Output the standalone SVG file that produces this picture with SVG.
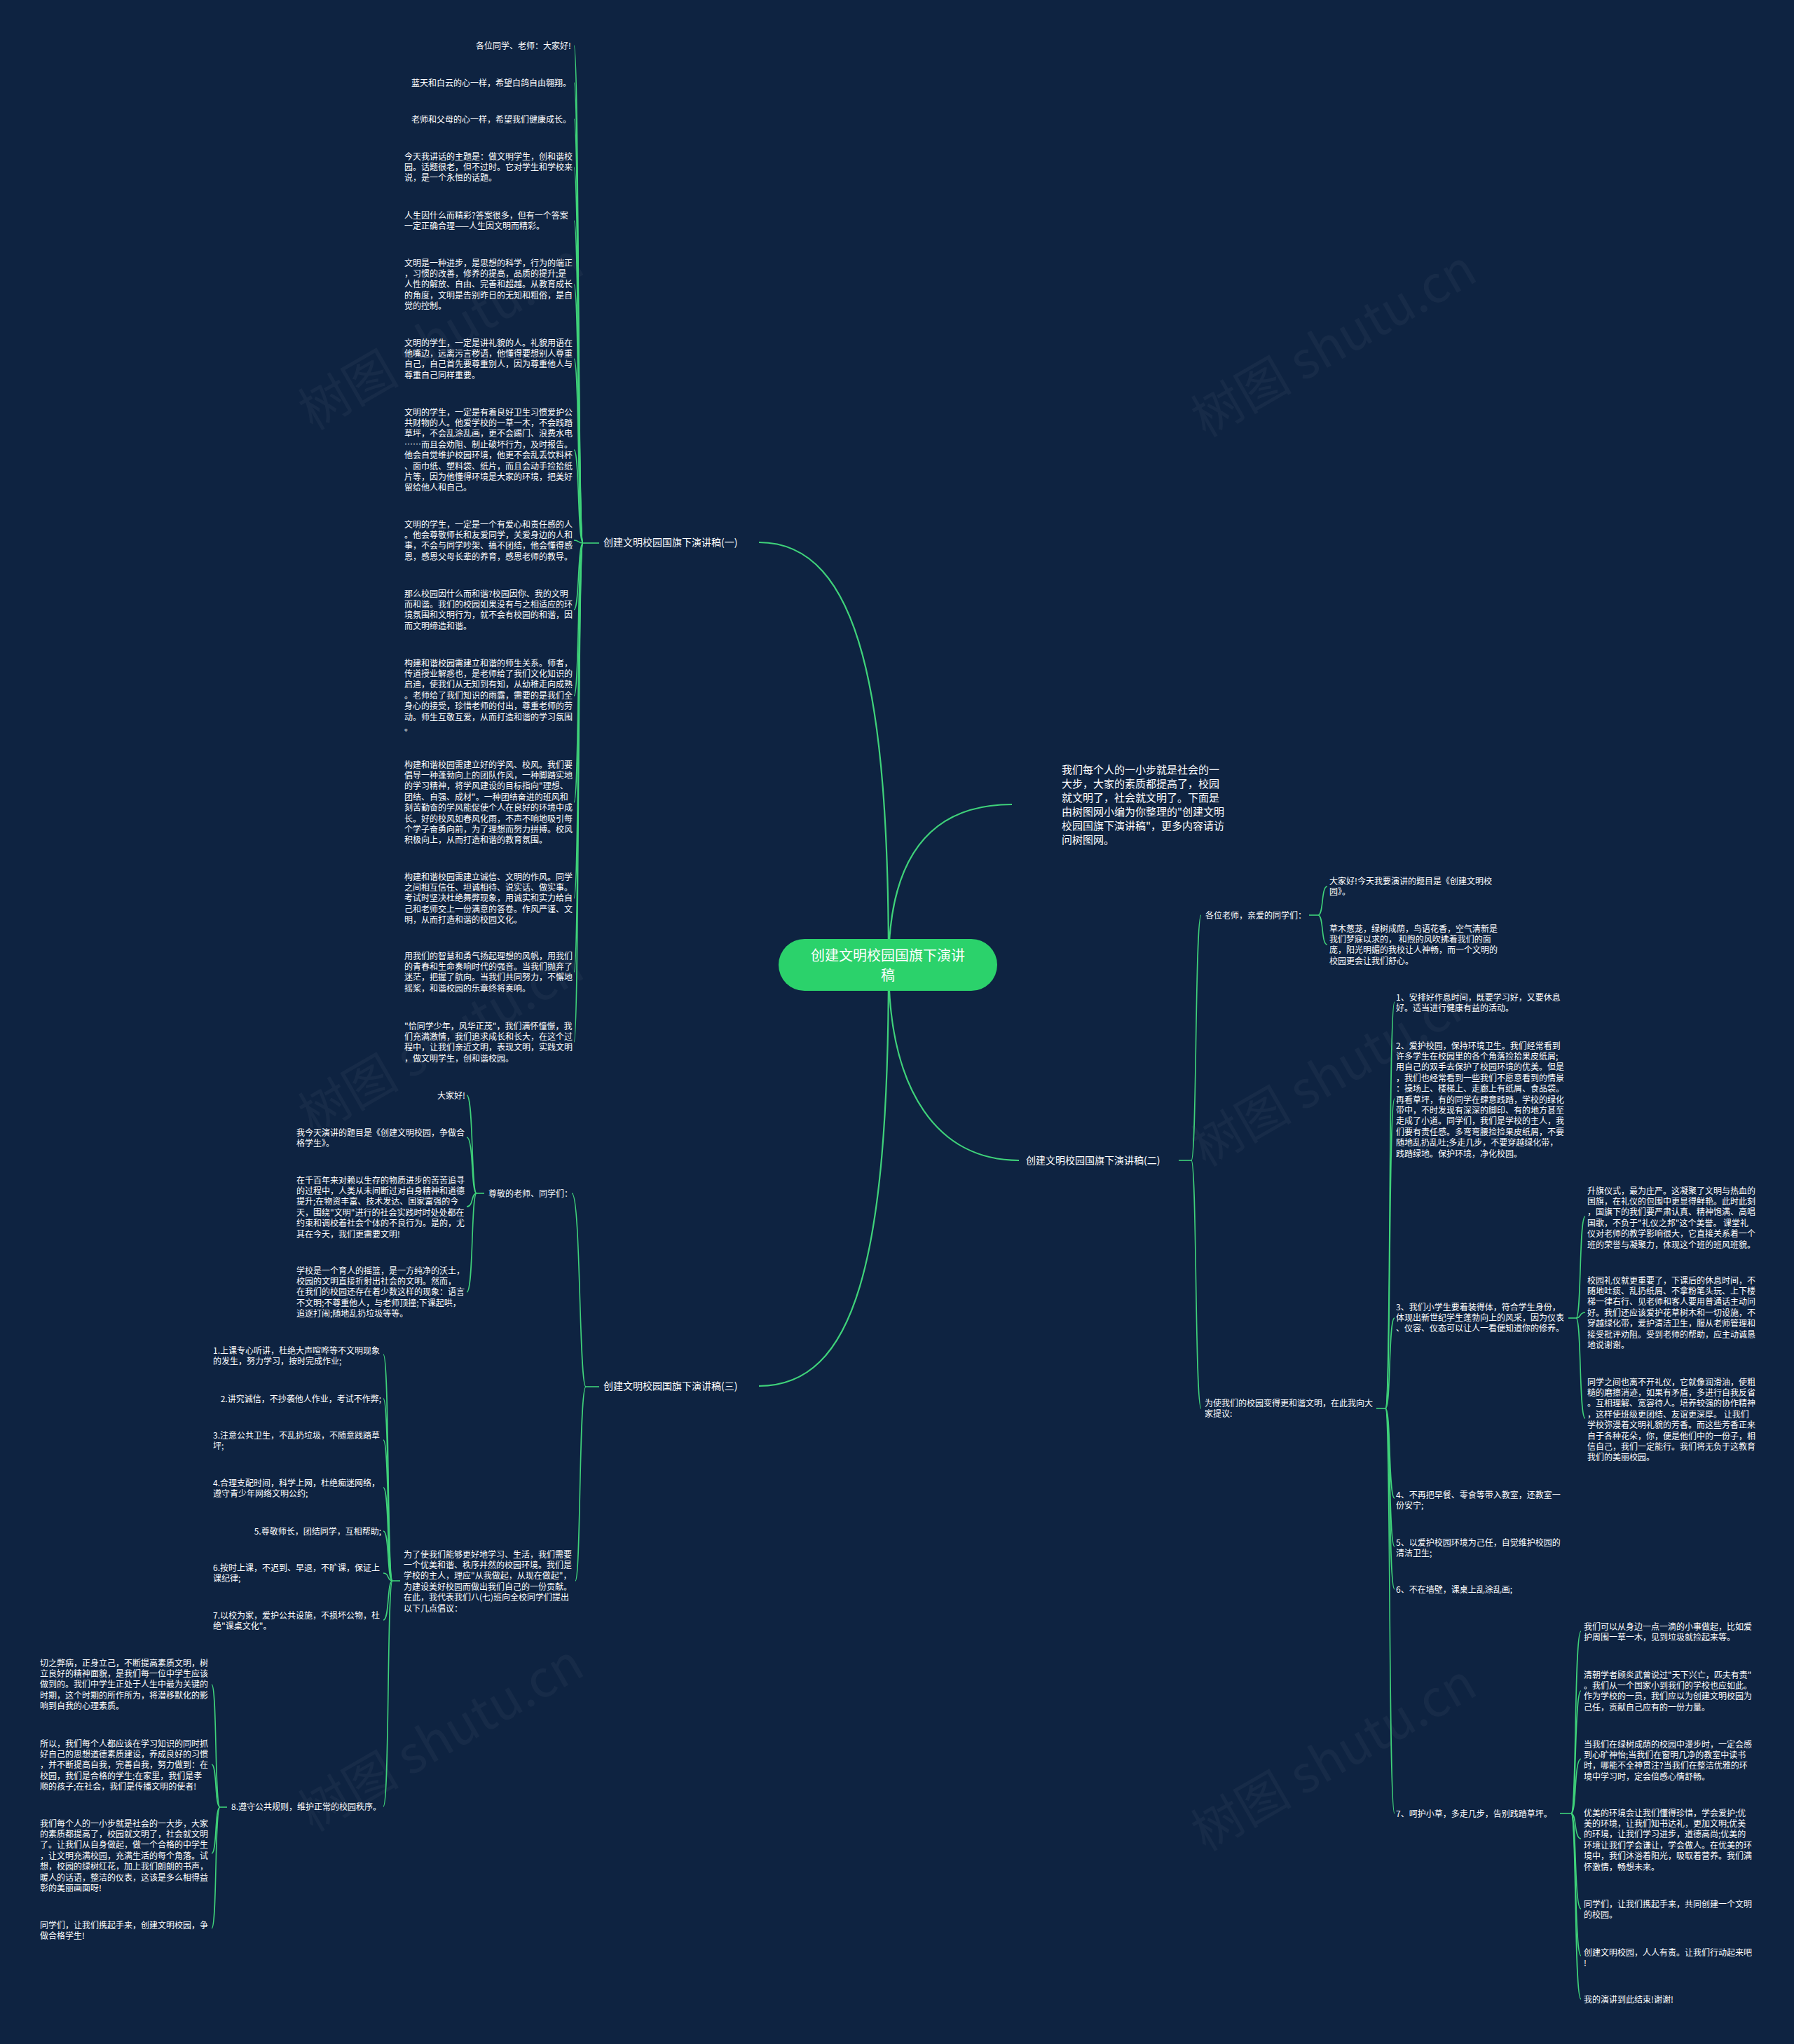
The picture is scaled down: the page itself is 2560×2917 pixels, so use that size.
<svg xmlns="http://www.w3.org/2000/svg" width="2560" height="2917" viewBox="0 0 2560 2917">
<style>
.t{font-family:"Noto Sans CJK SC","Noto Sans",sans-serif;font-size:12px;fill:#ffffff}
.e{text-anchor:end}
.lb{font-family:"Noto Sans CJK SC","Noto Sans",sans-serif;font-size:14px;fill:#ffffff}
.in{font-family:"Noto Sans CJK SC","Noto Sans",sans-serif;font-size:15px;fill:#ffffff}
.ct{font-family:"Noto Sans CJK SC","Noto Sans",sans-serif;font-size:20px;fill:#ffffff;text-anchor:middle}
.wm{font-family:"Noto Sans CJK SC","Liberation Sans",sans-serif;font-size:72px;fill:#ffffff;opacity:0.035}
.c{fill:none;stroke:#3fd27a;stroke-width:1.6}
.m{fill:none;stroke:#3fd27a;stroke-width:2.2}
</style>
<rect width="2560" height="2917" fill="#0e2341"/>
<g id="watermarks">
<text class="wm" transform="translate(642,502) rotate(-30)" text-anchor="middle">树图 shutu.cn</text>
<text class="wm" transform="translate(1916,512) rotate(-30)" text-anchor="middle">树图 shutu.cn</text>
<text class="wm" transform="translate(642,1507) rotate(-30)" text-anchor="middle">树图 shutu.cn</text>
<text class="wm" transform="translate(1916,1553) rotate(-30)" text-anchor="middle">树图 shutu.cn</text>
<text class="wm" transform="translate(642,2502) rotate(-30)" text-anchor="middle">树图 shutu.cn</text>
<text class="wm" transform="translate(1916,2530) rotate(-30)" text-anchor="middle">树图 shutu.cn</text>
</g>
<g id="connectors">
<path class="m" d="M1268 1377 C1268 1000 1230 774 1083 774"/>
<path class="m" d="M1268 1377 C1268 1220 1330 1148 1444 1148"/>
<path class="m" d="M1268 1377 C1268 1560 1340 1656 1454 1656"/>
<path class="m" d="M1268 1377 C1268 1800 1220 1978 1083 1978"/>
<!-- branch 1 -->
<path class="c" d="M855 775 H832"/>
<path class="c" d="M832 775 C824 775 827 65 819 65"/>
<path class="c" d="M832 775 C824 775 827 118 819 118"/>
<path class="c" d="M832 775 C824 775 827 170 819 170"/>
<path class="c" d="M832 775 C824 775 827 239 819 239"/>
<path class="c" d="M832 775 C824 775 827 315 819 315"/>
<path class="c" d="M832 775 C824 775 827 406 819 406"/>
<path class="c" d="M832 775 C824 775 827 512 819 512"/>
<path class="c" d="M832 775 C824 775 827 642 819 642"/>
<path class="c" d="M832 775 C824 775 827 771 819 771"/>
<path class="c" d="M832 775 C824 775 827 870 819 870"/>
<path class="c" d="M832 775 C824 775 827 993 819 993"/>
<path class="c" d="M832 775 C824 775 827 1145 819 1145"/>
<path class="c" d="M832 775 C824 775 827 1282 819 1282"/>
<path class="c" d="M832 775 C824 775 827 1387 819 1387"/>
<path class="c" d="M832 775 C824 775 827 1487 819 1487"/>
<!-- branch 3 -->
<path class="c" d="M855 1979 H836"/>
<path class="c" d="M836 1979 C826 1979 829 1703 816 1703"/>
<path class="c" d="M836 1979 C826 1979 829 2256 821 2256"/>
<path class="c" d="M691 1703 H680"/>
<path class="c" d="M680 1703 C672 1703 676 1563 666 1563"/>
<path class="c" d="M680 1703 C672 1703 676 1623 666 1623"/>
<path class="c" d="M680 1703 C672 1703 676 1722 666 1722"/>
<path class="c" d="M680 1703 C672 1703 676 1844 666 1844"/>
<path class="c" d="M571 2256 H560"/>
<path class="c" d="M560 2256 C552 2256 556 1933 547 1933"/>
<path class="c" d="M560 2256 C552 2256 556 1996 547 1996"/>
<path class="c" d="M560 2256 C552 2256 556 2055 547 2055"/>
<path class="c" d="M560 2256 C552 2256 556 2123 547 2123"/>
<path class="c" d="M560 2256 C552 2256 556 2185 547 2185"/>
<path class="c" d="M560 2256 C552 2256 556 2245 547 2245"/>
<path class="c" d="M560 2256 C552 2256 556 2312 547 2312"/>
<path class="c" d="M560 2256 C552 2256 556 2578 547 2578"/>
<path class="c" d="M324 2579 H314"/>
<path class="c" d="M314 2579 C306 2579 310 2404 302 2404"/>
<path class="c" d="M314 2579 C306 2579 310 2518 302 2518"/>
<path class="c" d="M314 2579 C306 2579 310 2645 302 2645"/>
<path class="c" d="M314 2579 C306 2579 310 2752 302 2752"/>
<!-- branch 2 -->
<path class="c" d="M1682 1656 H1700"/>
<path class="c" d="M1700 1656 C1708 1656 1705 1306 1714 1306"/>
<path class="c" d="M1700 1656 C1708 1656 1705 2010 1714 2010"/>
<path class="c" d="M1868 1306 H1881"/>
<path class="c" d="M1881 1306 C1889 1306 1885 1265 1894 1265"/>
<path class="c" d="M1881 1306 C1889 1306 1885 1348 1894 1348"/>
<path class="c" d="M1964 2010 H1977"/>
<path class="c" d="M1977 2010 C1985 2010 1981 1430 1990 1430"/>
<path class="c" d="M1977 2010 C1985 2010 1981 1568 1990 1568"/>
<path class="c" d="M1977 2010 C1985 2010 1981 1881 1990 1881"/>
<path class="c" d="M1977 2010 C1985 2010 1981 2138 1990 2138"/>
<path class="c" d="M1977 2010 C1985 2010 1981 2207 1990 2207"/>
<path class="c" d="M1977 2010 C1985 2010 1981 2268 1990 2268"/>
<path class="c" d="M1977 2010 C1985 2010 1981 2588 1990 2588"/>
<path class="c" d="M2238 1881 H2249"/>
<path class="c" d="M2249 1881 C2257 1881 2253 1736 2262 1736"/>
<path class="c" d="M2249 1881 C2257 1881 2253 1873 2262 1873"/>
<path class="c" d="M2249 1881 C2257 1881 2253 2024 2262 2024"/>
<path class="c" d="M2226 2588 H2242"/>
<path class="c" d="M2242 2588 C2250 2588 2246 2328 2256 2328"/>
<path class="c" d="M2242 2588 C2250 2588 2246 2413 2256 2413"/>
<path class="c" d="M2242 2588 C2250 2588 2246 2510 2256 2510"/>
<path class="c" d="M2242 2588 C2250 2588 2246 2624 2256 2624"/>
<path class="c" d="M2242 2588 C2250 2588 2246 2724 2256 2724"/>
<path class="c" d="M2242 2588 C2250 2588 2246 2791 2256 2791"/>
<path class="c" d="M2242 2588 C2250 2588 2246 2853 2256 2853"/>
</g>
<g id="center">
<rect x="1111" y="1340" width="312" height="74" rx="37" fill="#2bd26b"/>
<text class="ct"><tspan x="1267" y="1371">创建文明校园国旗下演讲</tspan><tspan x="1267" y="1399">稿</tspan></text>
</g>
<g id="intro">
<text class="in"><tspan x="1515" y="1103.5">我们每个人的一小步就是社会的一</tspan><tspan x="1515" dy="20">大步，大家的素质都提高了，校园</tspan><tspan x="1515" dy="20">就文明了，社会就文明了。下面是</tspan><tspan x="1515" dy="20">由树图网小编为你整理的"创建文明</tspan><tspan x="1515" dy="20">校园国旗下演讲稿"，更多内容请访</tspan><tspan x="1515" dy="20">问树图网。</tspan></text>
</g>
<g id="branch1">
<text class="lb" x="861" y="779">创建文明校园国旗下演讲稿(一)</text>
</g>
<g id="b1-n1"><text class="t e" x="815" y="69.5">各位同学、老师：大家好!</text></g>
<g id="b1-n2"><text class="t e" x="815" y="122.5">蓝天和白云的心一样，希望白鸽自由翱翔。</text></g>
<g id="b1-n3"><text class="t e" x="815" y="174.5">老师和父母的心一样，希望我们健康成长。</text></g>
<g id="b1-n4"><text class="t"><tspan x="577" y="227.5">今天我讲话的主题是：做文明学生，创和谐校</tspan><tspan x="577" dy="15.4">园。话题很老，但不过时。它对学生和学校来</tspan><tspan x="577" dy="15.4">说，是一个永恒的话题。</tspan></text></g>
<g id="b1-n5"><text class="t"><tspan x="577" y="311.5">人生因什么而精彩?答案很多，但有一个答案</tspan><tspan x="577" dy="15.4">一定正确合理——人生因文明而精彩。</tspan></text></g>
<g id="b1-n6"><text class="t"><tspan x="577" y="379.5">文明是一种进步，是思想的科学，行为的端正</tspan><tspan x="577" dy="15.4">，习惯的改善，修养的提高，品质的提升;是</tspan><tspan x="577" dy="15.4">人性的解放、自由、完善和超越。从教育成长</tspan><tspan x="577" dy="15.4">的角度，文明是告别昨日的无知和粗俗，是自</tspan><tspan x="577" dy="15.4">觉的控制。</tspan></text></g>
<g id="b1-n7"><text class="t"><tspan x="577" y="493.5">文明的学生，一定是讲礼貌的人。礼貌用语在</tspan><tspan x="577" dy="15.4">他嘴边，远离污言秽语，他懂得要想别人尊重</tspan><tspan x="577" dy="15.4">自己，自己首先要尊重别人，因为尊重他人与</tspan><tspan x="577" dy="15.4">尊重自己同样重要。</tspan></text></g>
<g id="b1-n8"><text class="t"><tspan x="577" y="592.5">文明的学生，一定是有着良好卫生习惯爱护公</tspan><tspan x="577" dy="15.4">共财物的人。他爱学校的一草一木，不会践踏</tspan><tspan x="577" dy="15.4">草坪，不会乱涂乱画，更不会踢门、浪费水电</tspan><tspan x="577" dy="15.4">……而且会劝阻、制止破坏行为，及时报告。</tspan><tspan x="577" dy="15.4">他会自觉维护校园环境，他更不会乱丢饮料杯</tspan><tspan x="577" dy="15.4">、面巾纸、塑料袋、纸片，而且会动手捡拾纸</tspan><tspan x="577" dy="15.4">片等，因为他懂得环境是大家的环境，把美好</tspan><tspan x="577" dy="15.4">留给他人和自己。</tspan></text></g>
<g id="b1-n9"><text class="t"><tspan x="577" y="752.5">文明的学生，一定是一个有爱心和责任感的人</tspan><tspan x="577" dy="15.4">。他会尊敬师长和友爱同学，关爱身边的人和</tspan><tspan x="577" dy="15.4">事，不会与同学吵架、搞不团结，他会懂得感</tspan><tspan x="577" dy="15.4">恩，感恩父母长辈的养育，感恩老师的教导。</tspan></text></g>
<g id="b1-n10"><text class="t"><tspan x="577" y="851.5">那么校园因什么而和谐?校园因你、我的文明</tspan><tspan x="577" dy="15.4">而和谐。我们的校园如果没有与之相适应的环</tspan><tspan x="577" dy="15.4">境氛围和文明行为，就不会有校园的和谐，因</tspan><tspan x="577" dy="15.4">而文明缔造和谐。</tspan></text></g>
<g id="b1-n11"><text class="t"><tspan x="577" y="950.5">构建和谐校园需建立和谐的师生关系。师者，</tspan><tspan x="577" dy="15.4">传道授业解惑也，是老师给了我们文化知识的</tspan><tspan x="577" dy="15.4">启迪，使我们从无知到有知，从幼稚走向成熟</tspan><tspan x="577" dy="15.4">。老师给了我们知识的雨露，需要的是我们全</tspan><tspan x="577" dy="15.4">身心的接受，珍惜老师的付出，尊重老师的劳</tspan><tspan x="577" dy="15.4">动。师生互敬互爱，从而打造和谐的学习氛围</tspan><tspan x="577" dy="15.4">。</tspan></text></g>
<g id="b1-n12"><text class="t"><tspan x="577" y="1095.5">构建和谐校园需建立好的学风、校风。我们要</tspan><tspan x="577" dy="15.4">倡导一种蓬勃向上的团队作风，一种脚踏实地</tspan><tspan x="577" dy="15.4">的学习精神，将学风建设的目标指向"理想、</tspan><tspan x="577" dy="15.4">团结、自强、成材"。一种团结奋进的班风和</tspan><tspan x="577" dy="15.4">刻苦勤奋的学风能促使个人在良好的环境中成</tspan><tspan x="577" dy="15.4">长。好的校风如春风化雨，不声不响地吸引每</tspan><tspan x="577" dy="15.4">个学子奋勇向前，为了理想而努力拼搏。校风</tspan><tspan x="577" dy="15.4">积极向上，从而打造和谐的教育氛围。</tspan></text></g>
<g id="b1-n13"><text class="t"><tspan x="577" y="1255.5">构建和谐校园需建立诚信、文明的作风。同学</tspan><tspan x="577" dy="15.4">之间相互信任、坦诚相待、说实话、做实事。</tspan><tspan x="577" dy="15.4">考试时坚决杜绝舞弊现象，用诚实和实力给自</tspan><tspan x="577" dy="15.4">己和老师交上一份满意的答卷。作风严谨、文</tspan><tspan x="577" dy="15.4">明，从而打造和谐的校园文化。</tspan></text></g>
<g id="b1-n14"><text class="t"><tspan x="577" y="1368.5">用我们的智慧和勇气扬起理想的风帆，用我们</tspan><tspan x="577" dy="15.4">的青春和生命奏响时代的强音。当我们抛弃了</tspan><tspan x="577" dy="15.4">迷茫，把握了航向。当我们共同努力，不懈地</tspan><tspan x="577" dy="15.4">摇桨，和谐校园的乐章终将奏响。</tspan></text></g>
<g id="b1-n15"><text class="t"><tspan x="577" y="1468.5">"恰同学少年，风华正茂"，我们满怀憧憬，我</tspan><tspan x="577" dy="15.4">们充满激情，我们追求成长和长大，在这个过</tspan><tspan x="577" dy="15.4">程中，让我们亲近文明，表现文明，实践文明</tspan><tspan x="577" dy="15.4">，做文明学生，创和谐校园。</tspan></text></g>
<g id="branch3">
<text class="lb" x="861" y="1983">创建文明校园国旗下演讲稿(三)</text>
</g>
<g id="b3-greet"><text class="t" x="697" y="1707.5">尊敬的老师、同学们：</text></g>
<g id="b3-g1"><text class="t e" x="664" y="1567.5">大家好!</text></g>
<g id="b3-g2"><text class="t"><tspan x="423" y="1620.5">我今天演讲的题目是《创建文明校园，争做合</tspan><tspan x="423" dy="15.4">格学生》。</tspan></text></g>
<g id="b3-g3"><text class="t"><tspan x="423" y="1688.5">在千百年来对赖以生存的物质进步的苦苦追寻</tspan><tspan x="423" dy="15.4">的过程中，人类从未间断过对自身精神和道德</tspan><tspan x="423" dy="15.4">提升;在物资丰富、技术发达、国家富强的今</tspan><tspan x="423" dy="15.4">天，围绕"文明"进行的社会实践时时处处都在</tspan><tspan x="423" dy="15.4">约束和调校着社会个体的不良行为。是的，尤</tspan><tspan x="423" dy="15.4">其在今天，我们更需要文明!</tspan></text></g>
<g id="b3-g4"><text class="t"><tspan x="423" y="1817.5">学校是一个育人的摇篮，是一方纯净的沃土，</tspan><tspan x="423" dy="15.4">校园的文明直接折射出社会的文明。然而，</tspan><tspan x="423" dy="15.4">在我们的校园还存在着少数这样的现象：语言</tspan><tspan x="423" dy="15.4">不文明;不尊重他人，与老师顶撞;下课起哄，</tspan><tspan x="423" dy="15.4">追逐打闹;随地乱扔垃圾等等。</tspan></text></g>
<g id="b3-prop"><text class="t"><tspan x="576" y="2222.5">为了使我们能够更好地学习、生活，我们需要</tspan><tspan x="576" dy="15.4">一个优美和谐、秩序井然的校园环境。我们是</tspan><tspan x="576" dy="15.4">学校的主人，理应"从我做起，从现在做起"，</tspan><tspan x="576" dy="15.4">为建设美好校园而做出我们自己的一份贡献。</tspan><tspan x="576" dy="15.4">在此，我代表我们八(七)班向全校同学们提出</tspan><tspan x="576" dy="15.4">以下几点倡议：</tspan></text></g>
<g id="b3-p1"><text class="t"><tspan x="304" y="1931.5">1.上课专心听讲，杜绝大声喧哗等不文明现象</tspan><tspan x="304" dy="15.4">的发生，努力学习，按时完成作业;</tspan></text></g>
<g id="b3-p2"><text class="t e" x="544" y="2000.5">2.讲究诚信，不抄袭他人作业，考试不作弊;</text></g>
<g id="b3-p3"><text class="t"><tspan x="304" y="2052.5">3.注意公共卫生，不乱扔垃圾，不随意践踏草</tspan><tspan x="304" dy="15.4">坪;</tspan></text></g>
<g id="b3-p4"><text class="t"><tspan x="304" y="2120.5">4.合理支配时间，科学上网，杜绝痴迷网络，</tspan><tspan x="304" dy="15.4">遵守青少年网络文明公约;</tspan></text></g>
<g id="b3-p5"><text class="t e" x="544" y="2189.5">5.尊敬师长，团结同学，互相帮助;</text></g>
<g id="b3-p6"><text class="t"><tspan x="304" y="2241.5">6.按时上课，不迟到、早退，不旷课，保证上</tspan><tspan x="304" dy="15.4">课纪律;</tspan></text></g>
<g id="b3-p7"><text class="t"><tspan x="304" y="2309.5">7.以校为家，爱护公共设施，不损坏公物，杜</tspan><tspan x="304" dy="15.4">绝"课桌文化"。</tspan></text></g>
<g id="b3-p8"><text class="t e" x="544" y="2582.5">8.遵守公共规则，维护正常的校园秩序。</text></g>
<g id="b3-p8a"><text class="t"><tspan x="57" y="2377.5">切之弊病，正身立己，不断提高素质文明，树</tspan><tspan x="57" dy="15.4">立良好的精神面貌，是我们每一位中学生应该</tspan><tspan x="57" dy="15.4">做到的。我们中学生正处于人生中最为关键的</tspan><tspan x="57" dy="15.4">时期，这个时期的所作所为，将潜移默化的影</tspan><tspan x="57" dy="15.4">响到自我的心理素质。</tspan></text></g>
<g id="b3-p8b"><text class="t"><tspan x="57" y="2492.5">所以，我们每个人都应该在学习知识的同时抓</tspan><tspan x="57" dy="15.4">好自己的思想道德素质建设，养成良好的习惯</tspan><tspan x="57" dy="15.4">，并不断提高自我，完善自我，努力做到：在</tspan><tspan x="57" dy="15.4">校园，我们是合格的学生;在家里，我们是孝</tspan><tspan x="57" dy="15.4">顺的孩子;在社会，我们是传播文明的使者!</tspan></text></g>
<g id="b3-p8c"><text class="t"><tspan x="57" y="2606.5">我们每个人的一小步就是社会的一大步，大家</tspan><tspan x="57" dy="15.4">的素质都提高了，校园就文明了，社会就文明</tspan><tspan x="57" dy="15.4">了。让我们从自身做起，做一个合格的中学生</tspan><tspan x="57" dy="15.4">，让文明充满校园，充满生活的每个角落。试</tspan><tspan x="57" dy="15.4">想，校园的绿树红花，加上我们朗朗的书声，</tspan><tspan x="57" dy="15.4">暖人的话语，整洁的仪表，这该是多么相得益</tspan><tspan x="57" dy="15.4">彰的美丽画面呀!</tspan></text></g>
<g id="b3-p8d"><text class="t"><tspan x="57" y="2751.5">同学们，让我们携起手来，创建文明校园，争</tspan><tspan x="57" dy="15.4">做合格学生!</tspan></text></g>
<g id="branch2">
<text class="lb" x="1464" y="1661">创建文明校园国旗下演讲稿(二)</text>
</g>
<g id="b2-greet"><text class="t" x="1720" y="1310.5">各位老师，亲爱的同学们：</text></g>
<g id="b2-g1"><text class="t"><tspan x="1897" y="1261.5">大家好!今天我要演讲的题目是《创建文明校</tspan><tspan x="1897" dy="15.4">园》。</tspan></text></g>
<g id="b2-g2"><text class="t"><tspan x="1897" y="1329.5">草木葱茏，绿树成荫，鸟语花香，空气清新是</tspan><tspan x="1897" dy="15.4">我们梦寐以求的， 和煦的风吹拂着我们的面</tspan><tspan x="1897" dy="15.4">庞，阳光明媚的我校让人神畅，而一个文明的</tspan><tspan x="1897" dy="15.4">校园更会让我们舒心。</tspan></text></g>
<g id="b2-prop"><text class="t"><tspan x="1719" y="2006.5">为使我们的校园变得更和谐文明，在此我向大</tspan><tspan x="1719" dy="15.4">家提议:</tspan></text></g>
<g id="b2-p1"><text class="t"><tspan x="1992" y="1427.5">1、安排好作息时间，既要学习好，又要休息</tspan><tspan x="1992" dy="15.4">好。适当进行健康有益的活动。</tspan></text></g>
<g id="b2-p2"><text class="t"><tspan x="1992" y="1496.5">2、爱护校园，保持环境卫生。我们经常看到</tspan><tspan x="1992" dy="15.4">许多学生在校园里的各个角落捡拾果皮纸屑;</tspan><tspan x="1992" dy="15.4">用自己的双手去保护了校园环境的优美。但是</tspan><tspan x="1992" dy="15.4">，我们也经常看到一些我们不愿意看到的情景</tspan><tspan x="1992" dy="15.4">：操场上、楼梯上、走廊上有纸屑、食品袋。</tspan><tspan x="1992" dy="15.4">再看草坪，有的同学在肆意践踏，学校的绿化</tspan><tspan x="1992" dy="15.4">带中，不时发现有深深的脚印、有的地方甚至</tspan><tspan x="1992" dy="15.4">走成了小道。同学们，我们是学校的主人，我</tspan><tspan x="1992" dy="15.4">们要有责任感。多弯弯腰捡捡果皮纸屑，不要</tspan><tspan x="1992" dy="15.4">随地乱扔乱吐;多走几步，不要穿越绿化带，</tspan><tspan x="1992" dy="15.4">践踏绿地。保护环境，净化校园。</tspan></text></g>
<g id="b2-p3"><text class="t"><tspan x="1992" y="1869.5">3、我们小学生要着装得体，符合学生身份，</tspan><tspan x="1992" dy="15.4">体现出新世纪学生蓬勃向上的风采，因为仪表</tspan><tspan x="1992" dy="15.4">、仪容、仪态可以让人一看便知道你的修养。</tspan></text></g>
<g id="b2-p3a"><text class="t"><tspan x="2265" y="1703.5">升旗仪式，最为庄严。这凝聚了文明与热血的</tspan><tspan x="2265" dy="15.4">国旗，在礼仪的包围中更显得鲜艳。此时此刻</tspan><tspan x="2265" dy="15.4">，国旗下的我们要严肃认真、精神饱满、高唱</tspan><tspan x="2265" dy="15.4">国歌，不负于"礼仪之邦"这个美誉。 课堂礼</tspan><tspan x="2265" dy="15.4">仪对老师的教学影响很大，它直接关系着一个</tspan><tspan x="2265" dy="15.4">班的荣誉与凝聚力，体现这个班的班风班貌。</tspan></text></g>
<g id="b2-p3b"><text class="t"><tspan x="2265" y="1831.5">校园礼仪就更重要了，下课后的休息时间，不</tspan><tspan x="2265" dy="15.4">随地吐痰、乱扔纸屑、不拿粉笔头玩、上下楼</tspan><tspan x="2265" dy="15.4">梯一律右行、见老师和客人要用普通话主动问</tspan><tspan x="2265" dy="15.4">好。我们还应该爱护花草树木和一切设施，不</tspan><tspan x="2265" dy="15.4">穿越绿化带，爱护清洁卫生，服从老师管理和</tspan><tspan x="2265" dy="15.4">接受批评劝阻。受到老师的帮助，应主动诚恳</tspan><tspan x="2265" dy="15.4">地说谢谢。</tspan></text></g>
<g id="b2-p3c"><text class="t"><tspan x="2265" y="1976.5">同学之间也离不开礼仪，它就像润滑油，使粗</tspan><tspan x="2265" dy="15.4">糙的磨擦消迹，如果有矛盾，多进行自我反省</tspan><tspan x="2265" dy="15.4">。互相理解、宽容待人。培养较强的协作精神</tspan><tspan x="2265" dy="15.4">，这样使班级更团结、友谊更深厚。 让我们</tspan><tspan x="2265" dy="15.4">学校弥漫着文明礼貌的芳香。而这些芳香正来</tspan><tspan x="2265" dy="15.4">自于各种花朵，你，便是他们中的一份子，相</tspan><tspan x="2265" dy="15.4">信自己，我们一定能行。我们将无负于这教育</tspan><tspan x="2265" dy="15.4">我们的美丽校园。</tspan></text></g>
<g id="b2-p4"><text class="t"><tspan x="1992" y="2137.5">4、不再把早餐、零食等带入教室，还教室一</tspan><tspan x="1992" dy="15.4">份安宁;</tspan></text></g>
<g id="b2-p5"><text class="t"><tspan x="1992" y="2205.5">5、以爱护校园环境为己任，自觉维护校园的</tspan><tspan x="1992" dy="15.4">清洁卫生;</tspan></text></g>
<g id="b2-p6"><text class="t" x="1992" y="2272.5">6、不在墙壁，课桌上乱涂乱画;</text></g>
<g id="b2-p7"><text class="t" x="1992" y="2592.5">7、呵护小草，多走几步，告别践踏草坪。</text></g>
<g id="b2-p7a"><text class="t"><tspan x="2260" y="2325.5">我们可以从身边一点一滴的小事做起，比如爱</tspan><tspan x="2260" dy="15.4">护周围一草一木，见到垃圾就捡起来等。</tspan></text></g>
<g id="b2-p7b"><text class="t"><tspan x="2260" y="2394.5">清朝学者顾炎武曾说过"天下兴亡，匹夫有责"</tspan><tspan x="2260" dy="15.4">。我们从一个国家小到我们的学校也应如此。</tspan><tspan x="2260" dy="15.4">作为学校的一员，我们应以为创建文明校园为</tspan><tspan x="2260" dy="15.4">己任，贡献自己应有的一份力量。</tspan></text></g>
<g id="b2-p7c"><text class="t"><tspan x="2260" y="2493.5">当我们在绿树成荫的校园中漫步时，一定会感</tspan><tspan x="2260" dy="15.4">到心旷神怡;当我们在窗明几净的教室中读书</tspan><tspan x="2260" dy="15.4">时，哪能不全神贯注?当我们在整洁优雅的环</tspan><tspan x="2260" dy="15.4">境中学习时，定会倍感心情舒畅。</tspan></text></g>
<g id="b2-p7d"><text class="t"><tspan x="2260" y="2591.5">优美的环境会让我们懂得珍惜，学会爱护;优</tspan><tspan x="2260" dy="15.4">美的环境，让我们知书达礼，更加文明;优美</tspan><tspan x="2260" dy="15.4">的环境，让我们学习进步，道德高尚;优美的</tspan><tspan x="2260" dy="15.4">环境让我们学会谦让，学会做人。在优美的环</tspan><tspan x="2260" dy="15.4">境中，我们沐浴着阳光，吸取着营养。我们满</tspan><tspan x="2260" dy="15.4">怀激情，畅想未来。</tspan></text></g>
<g id="b2-p7e"><text class="t"><tspan x="2260" y="2721.5">同学们，让我们携起手来，共同创建一个文明</tspan><tspan x="2260" dy="15.4">的校园。</tspan></text></g>
<g id="b2-p7f"><text class="t"><tspan x="2260" y="2790.5">创建文明校园，人人有责。让我们行动起来吧</tspan><tspan x="2260" dy="15.4">!</tspan></text></g>
<g id="b2-p7g"><text class="t" x="2260" y="2857.5">我的演讲到此结束!谢谢!</text></g>
</svg>
